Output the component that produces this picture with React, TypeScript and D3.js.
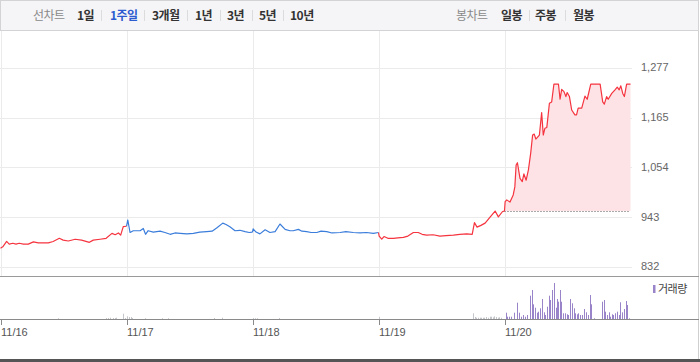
import React from "react";
import * as d3 from "d3";

// ---- data (minutes after 09:00, price) ----
const dayLabels = ["11/16", "11/17", "11/18", "11/19", "11/20"];
const dayDirection = ["up", "down", "down", "up", "up"];
const prevClose = 956;
const priceTicks = [832, 943, 1054, 1165, 1277];

const day1Prices: [number, number][] = [
  [0, 873], [7, 876], [19, 888], [27, 882], [38, 884], [48, 882], [58, 884], [71, 882],
  [86, 882], [102, 887], [117, 885], [132, 885], [148, 885], [163, 888], [182, 895],
  [194, 891], [210, 889], [231, 893], [251, 891], [275, 886], [287, 891], [308, 893],
  [327, 895], [345, 906], [355, 903], [365, 907], [372, 902], [380, 921], [390, 922],
];
const day2Prices: [number, number][] = [
  [4, 936], [11, 908], [21, 912], [42, 912], [52, 917], [59, 904], [67, 912], [83, 909],
  [104, 911], [119, 908], [135, 904], [150, 907], [166, 906], [187, 905], [207, 906],
  [227, 909], [248, 910], [265, 911], [279, 918], [298, 929], [308, 926], [320, 921],
  [336, 912], [351, 913], [367, 910], [380, 908], [390, 909],
];
const day3Prices: [number, number][] = [
  [2, 916], [11, 909], [23, 905], [39, 914], [54, 908], [70, 910], [85, 927], [101, 915],
  [116, 912], [126, 912], [142, 915], [153, 911], [168, 910], [181, 908], [199, 908],
  [212, 911], [230, 910], [246, 907], [271, 908], [289, 910], [312, 908], [333, 907],
  [353, 908], [374, 906], [390, 908],
];
const day4Prices: [number, number][] = [
  [2, 900], [10, 893], [17, 899], [29, 895], [46, 895], [60, 896], [77, 897], [91, 900],
  [108, 908], [123, 908], [135, 904], [149, 902], [169, 903], [190, 900], [209, 901],
  [232, 902], [252, 904], [273, 905], [290, 904], [297, 930], [305, 920], [317, 924],
  [330, 929], [346, 943], [361, 956], [371, 943], [384, 955], [390, 956],
];
const day5Prices: [number, number][] = [
  [2, 977], [7, 981], [17, 976], [27, 992], [32, 1010], [36, 1059], [40, 1064], [48, 1029],
  [55, 1022], [60, 1039], [67, 1025], [74, 1048], [81, 1085], [87, 1126], [92, 1128],
  [97, 1117], [108, 1126], [115, 1176], [120, 1126], [125, 1141], [131, 1143], [139, 1197],
  [146, 1200], [153, 1240], [167, 1240], [172, 1206], [177, 1228], [184, 1223], [190, 1212],
  [194, 1221], [201, 1212], [208, 1182], [218, 1171], [223, 1171], [228, 1186], [239, 1186],
  [249, 1213], [256, 1206], [267, 1240], [296, 1240], [304, 1200], [309, 1195], [316, 1212],
  [321, 1206], [332, 1219], [342, 1227], [349, 1233], [355, 1227], [360, 1236], [366, 1219],
  [371, 1212], [378, 1240], [390, 1240],
];

// volume (minutes after 09:00, shares in thousands)
const day1Volume: [number, number][] = [
  [177, 80], [328, 100], [334, 100], [340, 130], [347, 100], [353, 100], [359, 130],
  [379, 530], [384, 100],
];
const day2Volume: [number, number][] = [
  [3, 270], [8, 200], [13, 200], [18, 100], [56, 80], [111, 80], [127, 80], [272, 100], [296, 130],
];
const day3Volume: [number, number][] = [
  [3, 100], [9, 80], [15, 80], [82, 100],
];
const day4Volume: [number, number][] = [
  [2, 220], [294, 570], [298, 200], [302, 130], [307, 130], [313, 130], [318, 130], [323, 130],
  [328, 130], [333, 200], [338, 130], [344, 230], [349, 230], [354, 170], [359, 270],
  [364, 200], [369, 130], [374, 170], [380, 130],
];
const day5Volume: [number, number][] = [
  [4, 630], [8, 230], [14, 230], [21, 230], [30, 630], [38, 1630], [44, 630], [52, 230],
  [58, 400], [64, 230], [70, 400], [78, 2330], [85, 2900], [89, 1470], [94, 1130], [100, 630],
  [104, 730], [109, 1070], [117, 2000], [121, 670], [125, 400], [132, 1230], [137, 2330],
  [142, 1900], [147, 2900], [153, 3600], [158, 1130], [162, 2000], [167, 1730], [171, 2900],
  [175, 1730], [182, 570], [187, 570], [192, 470], [197, 400], [202, 2000], [208, 1570],
  [214, 1070], [219, 570], [224, 470], [229, 570], [235, 400], [240, 400], [246, 1000],
  [252, 670], [257, 400], [264, 2400], [269, 1470], [278, 70], [302, 1730], [307, 1900],
  [312, 730], [317, 400], [322, 670], [327, 230], [333, 470], [337, 400], [343, 570],
  [348, 730], [354, 400], [359, 1670], [364, 670], [369, 1000], [375, 1800], [380, 1400],
  [384, 70],
];

const priceDays = [day1Prices, day2Prices, day3Prices, day4Prices, day5Prices];
const volumeDays = [day1Volume, day2Volume, day3Volume, day4Volume, day5Volume];

const headerLeft = ["1일", "1주일", "3개월", "1년", "3년", "5년", "10년"];
const headerRight = ["일봉", "주봉", "월봉"];

const DAY_MIN = 390;
const W = 700;
const H = 362;

export default function App() {
  const x = d3.scaleLinear().domain([0, DAY_MIN * 5]).range([0.5, 630.5]);
  const y = d3.scaleLinear().domain([832, 1277]).range([266.5, 67.5]);
  const vy = d3.scaleLinear().domain([0, 3800]).range([319, 281]);

  const pts = priceDays.map((day, i) =>
    day.map(([m, p]) => [x(i * DAY_MIN + m), y(p)] as [number, number])
  );
  const line = d3.line<[number, number]>().x((d) => d[0]).y((d) => d[1]);
  const area = d3
    .area<[number, number]>()
    .x((d) => d[0])
    .y0(y(prevClose))
    .y1((d) => d[1]);

  const red = "#f5343f";
  const blue = "#3b7ddb";
  const cjk = "'Noto Sans CJK KR', sans-serif";
  const num = "'Liberation Sans', Arial, sans-serif";

  const leftX = [77, 110, 152, 195, 227, 259, 290];
  const leftSep = [101, 144, 187, 220, 252, 283];
  const rightX = [501, 535, 573];
  const rightSep = [529, 565];

  const dayX = dayLabels.map((_, i) => Math.round(x(i * DAY_MIN)) + 0.5);

  return (
    <div style={{ position: "absolute", left: 0, top: 0, width: W, height: H }}>
      <svg width={W} height={H} style={{ display: "block" }}>
        <rect x={0} y={0} width={W} height={H} fill="#fff" />
        {/* header */}
        <rect x={0.5} y={0.5} width={698} height={30} fill="#f5f5f7" stroke="#d3d3d6" />
        <text x={33} y={20} fontFamily={cjk} fontSize={12} fill="#8a8a8a" letterSpacing={-0.5}>
          선차트
        </text>
        {headerLeft.map((t, i) => (
          <text
            key={t}
            x={leftX[i]}
            y={20}
            fontFamily={cjk}
            fontSize={12}
            fontWeight={700}
            letterSpacing={-0.5}
            fill={t === "1주일" ? "#2d5bd0" : "#333"}
          >
            {t}
          </text>
        ))}
        {leftSep.map((s) => (
          <line key={s} x1={s + 0.5} x2={s + 0.5} y1={10} y2={21} stroke="#dcdcdc" />
        ))}
        <text x={456} y={20} fontFamily={cjk} fontSize={12} fill="#8a8a8a" letterSpacing={-0.5}>
          봉차트
        </text>
        {headerRight.map((t, i) => (
          <text key={t} x={rightX[i]} y={20} fontFamily={cjk} fontSize={12} fontWeight={700} letterSpacing={-0.5} fill="#333">
            {t}
          </text>
        ))}
        {rightSep.map((s) => (
          <line key={s} x1={s + 0.5} x2={s + 0.5} y1={10} y2={21} stroke="#dcdcdc" />
        ))}

        {/* right border */}
        <line x1={698.5} x2={698.5} y1={31} y2={359} stroke="#cfcfcf" />

        {/* grid */}
        {priceTicks.map((t) => {
          const yy = Math.round(y(t)) + 0.5;
          return <line key={t} x1={0} x2={632} y1={yy} y2={yy} stroke="#ebebeb" />;
        })}
        {dayX.map((dx, i) => (
          <line key={i} x1={dx} x2={dx} y1={31} y2={276} stroke="#ebebeb" />
        ))}
        {priceTicks.map((t) => (
          <text key={t} x={641} y={y(t)} dy="0.35em" fontFamily={num} fontSize={11} fill="#666">
            {d3.format(",")(t)}
          </text>
        ))}

        {/* area for last day */}
        <path d={area(pts[4]) || ""} fill="#fde3e6" />
        <line
          x1={x(4 * DAY_MIN)}
          x2={x(5 * DAY_MIN)}
          y1={Math.round(y(prevClose)) + 0.5}
          y2={Math.round(y(prevClose)) + 0.5}
          stroke="#555"
          strokeDasharray="1,2"
        />
        {pts.map((p, i) => {
          const seg = i > 0 ? [pts[i - 1][pts[i - 1].length - 1], ...p] : p;
          return (
            <path
              key={i}
              d={line(seg) || ""}
              fill="none"
              stroke={dayDirection[i] === "up" ? red : blue}
              strokeWidth={1.2}
              strokeLinejoin="round"
            />
          );
        })}

        {/* panel separator */}
        <line x1={0} x2={699} y1={276.5} y2={276.5} stroke="#9a9a9a" />

        {/* volume */}
        {volumeDays.map((day, i) =>
          day.map(([m, v], j) => (
            <rect
              key={`${i}-${j}`}
              x={Math.round(x(i * DAY_MIN + m))}
              y={vy(v)}
              width={1}
              height={319 - vy(v)}
              fill={i === 4 ? "#9a84c9" : "#c4c8cc"}
            />
          ))
        )}
        <rect x={653} y={285} width={2.5} height={8} fill="#9a84c9" />
        <text x={658} y={293} fontFamily={cjk} fontSize={11} fill="#444" letterSpacing={-0.5}>
          거래량
        </text>

        {/* x axis */}
        <line x1={0} x2={699} y1={319.5} y2={319.5} stroke="#8a8a8a" />
        {dayX.map((dx, i) => (
          <g key={i}>
            <line x1={dx} x2={dx} y1={319.5} y2={325} stroke="#8a8a8a" />
            <text x={dx - 0.5} y={336} fontFamily={num} fontSize={11} fill="#555">
              {dayLabels[i]}
            </text>
          </g>
        ))}

        {/* bottom bar */}
        <rect x={0} y={359} width={W} height={3} fill="#555" />
      </svg>
    </div>
  );
}
